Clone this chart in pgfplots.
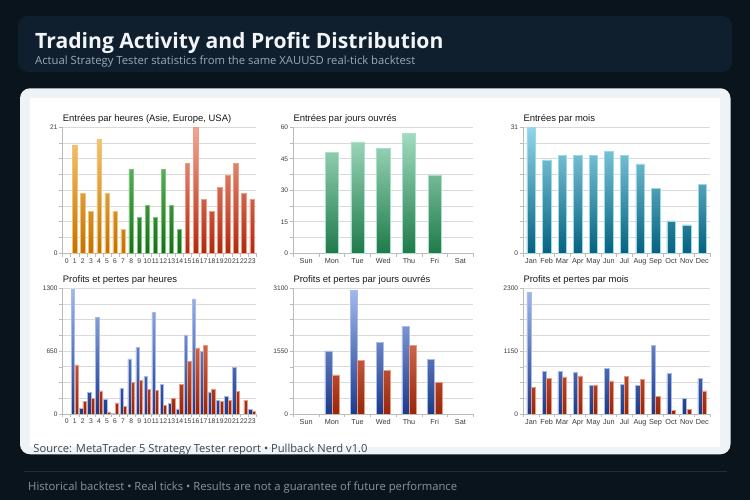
\documentclass[border=0pt]{standalone}
\usepackage{pgfplots}
\pgfplotsset{compat=1.18}
\usepackage{fontspec}
\setmainfont{Open Sans}
\newfontfamily\chartfont{Liberation Sans}

\definecolor{bgc}{HTML}{0A141C}
\definecolor{headc}{HTML}{0F1F2D}
\definecolor{cardc}{HTML}{EEF3F7}
\definecolor{titlec}{HTML}{F2F5F8}
\definecolor{subc}{HTML}{9AAAB8}
\definecolor{srcc}{HTML}{3A4550}
\definecolor{sepc}{HTML}{1E2D3A}
\definecolor{footc}{HTML}{8795A3}
\definecolor{gridc}{HTML}{DADADA}
\definecolor{axisc}{HTML}{BBBBBB}
\definecolor{tickc}{HTML}{3A3A3A}
\definecolor{ptitle}{HTML}{1A1A1A}
% bar colours
\definecolor{orT}{HTML}{F8CC7A}\definecolor{orB}{HTML}{C27200}\definecolor{orD}{HTML}{F2C27A}
\definecolor{grT}{HTML}{7CCB7C}\definecolor{grB}{HTML}{157015}\definecolor{grD}{HTML}{7CC47C}
\definecolor{rdT}{HTML}{F2A894}\definecolor{rdB}{HTML}{B2280C}\definecolor{rdD}{HTML}{EE9A86}
\definecolor{dyT}{HTML}{A8E0C6}\definecolor{dyB}{HTML}{1F7A4A}\definecolor{dyD}{HTML}{A8E2C6}
\definecolor{moT}{HTML}{92D6EA}\definecolor{moB}{HTML}{05627E}\definecolor{moD}{HTML}{9AD8EA}
\definecolor{blT}{HTML}{A4BAEE}\definecolor{blB}{HTML}{1A3A8A}\definecolor{blD}{HTML}{A7BCEB}
\definecolor{lsT}{HTML}{F39A80}\definecolor{lsB}{HTML}{9A2508}\definecolor{lsD}{HTML}{E89A86}

\pgfplotsset{
  panel/.style={
    scale only axis,
    axis x line*=bottom, axis y line*=left,
    axis line style={-, draw=axisc, line width=0.7bp},
    ymajorgrids, grid style={draw=gridc, line width=0.8bp},
    tick align=outside,
    major tick length=3.5bp, minor tick length=3.5bp,
    major tick style={draw=axisc, line width=0.6bp},
    minor tick style={draw=axisc, line width=0.6bp},
    major x tick style={draw=none},
    ymin=0, xmin=-0.5,
    yticklabel style={font=\chartfont\fontsize{6.6}{7}\selectfont, text=tickc, inner sep=1.5bp},
    xticklabel style={font=\chartfont\fontsize{7.3}{8}\selectfont, text=tickc, inner sep=1.5bp},
    every axis title shift=0pt,
    title style={font=\chartfont\fontsize{9.5}{10}\selectfont, text=ptitle, at={(0,1)}, anchor=base west, yshift=5.8bp, inner sep=0pt},
    ybar,
    clip=true,
  },
  hours/.style={xmax=23.5, xtick={0,...,23},
    xticklabels={0,1,2,3,4,5,6,7,8,9,10,11,12,13,14,15,16,17,18,19,20,21,22,23},
    xticklabel style={font=\chartfont\fontsize{6.8}{7}\selectfont},
    minor xtick={-0.5,0.5,...,23.5}},
  days/.style={xmax=6.5, xtick={0,...,6},
    xticklabels={Sun,Mon,Tue,Wed,Thu,Fri,Sat},
    minor xtick={-0.5,0.5,...,6.5}},
  months/.style={xmax=11.5, xtick={0,...,11},
    xticklabels={Jan,Feb,Mar,Apr,May,Jun,Jul,Aug,Sep,Oct,Nov,Dec},
    minor xtick={-0.5,0.5,...,11.5}},
}

\begin{document}
\begin{tikzpicture}[x=1bp,y=1bp]
\useasboundingbox (0,0) rectangle (750,500);
\fill[bgc] (0,0) rectangle (750,500);
% header
\fill[headc, rounded corners=10bp] (18,428) rectangle (732,484);
\node[anchor=base west, inner sep=0pt, text=titlec, font=\fontsize{21.2}{24}\selectfont\bfseries] at (35,451) {Trading Activity and Profit Distribution};
\node[anchor=base west, inner sep=0pt, text=subc, font=\fontsize{11.3}{13}\selectfont] at (35,435.7) {Actual Strategy Tester statistics from the same XAUUSD real-tick backtest};
% card
\fill[cardc, rounded corners=10bp] (20,45.7) rectangle (730.5,411.7);
\fill[white] (30,53.3) rectangle (720,401.7);
\node[anchor=base west, inner sep=0pt, text=srcc, font=\fontsize{11.2}{13}\selectfont] at (33.3,47.3) {Source: MetaTrader 5 Strategy Tester report • Pullback Nerd v1.0};
% footer
\draw[sepc, line width=1bp] (24,28) -- (726.7,28);
\node[anchor=base west, inner sep=0pt, text=footc, font=\fontsize{11.3}{13}\selectfont] at (28,9) {Historical backtest • Real ticks • Results are not a guarantee of future performance};

% ---------- Panel 1: entries per hour
\begin{axis}[panel, hours, at={(62.7bp,246.7bp)}, anchor=south west,
  width=193.3bp, height=126bp, ymax=21,
  ytick={0,2.625,5.25,7.875,10.5,13.125,15.75,18.375,21},
  yticklabels={0,{},{},{},{},{},{},{},21},
  title={Entrées par heures (Asie, Europe, USA)}]
\addplot[bar width=0.54, bar shift=0, top color=orT, bottom color=orB, draw=orD, line width=0.5bp]
  coordinates {(-5,21) (1,18) (2,10) (3,7) (4,19) (5,10) (6,7) (7,4)};
\addplot[bar width=0.54, bar shift=0, top color=grT, bottom color=grB, draw=grD, line width=0.5bp]
  coordinates {(-5,21) (8,14) (9,6) (10,8) (11,6) (12,14) (13,8) (14,4)};
\addplot[bar width=0.54, bar shift=0, top color=rdT, bottom color=rdB, draw=rdD, line width=0.5bp]
  coordinates {(-5,21) (15,15) (16,21) (17,9) (18,7) (19,11) (20,13) (21,15) (22,10) (23,9)};
\end{axis}

% ---------- Panel 2: entries per weekday
\begin{axis}[panel, days, at={(293.3bp,246.7bp)}, anchor=south west,
  width=180bp, height=126bp, ymax=60,
  ytick={0,7.5,15,22.5,30,37.5,45,52.5,60},
  yticklabels={0,{},15,{},30,{},45,{},60},
  title={Entrées par jours ouvrés}]
\addplot[bar width=0.52, bar shift=0, top color=dyT, bottom color=dyB, draw=dyD, line width=0.5bp]
  coordinates {(-5,60) (1,48) (2,53) (3,50) (4,57) (5,37)};
\end{axis}

% ---------- Panel 3: entries per month
\begin{axis}[panel, months, at={(523.3bp,246.7bp)}, anchor=south west,
  width=186.7bp, height=126bp, ymax=31,
  ytick={0,3.875,7.75,11.625,15.5,19.375,23.25,27.125,31},
  yticklabels={0,{},{},{},{},{},{},{},31},
  title={Entrées par mois}]
\addplot[bar width=0.54, bar shift=0, top color=moT, bottom color=moB, draw=moD, line width=0.5bp]
  coordinates {(-5,31) (0,31) (1,23) (2,24) (3,24) (4,24) (5,25) (6,24) (7,22) (8,16) (9,8) (10,7) (11,17)};
\end{axis}

% ---------- Panel 4: P/L per hour
\begin{axis}[panel, hours, at={(62.7bp,86bp)}, anchor=south west,
  width=193.3bp, height=125.7bp, ymax=1300,
  ytick={0,162.5,325,487.5,650,812.5,975,1137.5,1300},
  yticklabels={0,{},{},{},650,{},{},{},1300},
  title={Profits et pertes par heures}]
\addplot[bar width=0.41, bar shift=-0.21, top color=blT, bottom color=blB, draw=blD, line width=0.5bp]
  coordinates {(-5,1300) (1,1290) (2,59) (3,221) (4,1000) (5,148) (6,10) (7,266) (8,569) (9,686) (10,390) (11,1048) (12,303) (13,110) (14,52) (15,817) (16,1190) (17,652) (18,228) (19,141) (20,183) (21,479) (23,45)};
\addplot[bar width=0.41, bar shift=0.21, top color=lsT, bottom color=lsB, draw=lsD, line width=0.5bp]
  coordinates {(-5,1300) (1,507) (2,134) (3,162) (4,238) (5,21) (6,114) (7,79) (8,328) (9,345) (10,255) (11,245) (12,86) (13,162) (14,310) (15,541) (16,683) (17,707) (18,259) (19,134) (20,138) (21,234) (22,141) (23,24)};
\end{axis}

% ---------- Panel 5: P/L per weekday
\begin{axis}[panel, days, at={(293.3bp,86bp)}, anchor=south west,
  width=180bp, height=125.7bp, ymax=3100,
  ytick={0,387.5,775,1162.5,1550,1937.5,2325,2712.5,3100},
  yticklabels={0,{},{},{},1550,{},{},{},3100},
  title={Profits et pertes par jours ouvrés}]
\addplot[bar width=0.27, bar shift=-0.14, top color=blT, bottom color=blB, draw=blD, line width=0.5bp]
  coordinates {(-5,3100) (1,1554) (2,3043) (3,1768) (4,2163) (5,1340)};
\addplot[bar width=0.27, bar shift=0.14, top color=lsT, bottom color=lsB, draw=lsD, line width=0.5bp]
  coordinates {(-5,3100) (1,962) (2,1324) (3,1077) (4,1686) (5,781)};
\end{axis}

% ---------- Panel 6: P/L per month
\begin{axis}[panel, months, at={(523.3bp,86bp)}, anchor=south west,
  width=186.7bp, height=125.7bp, ymax=2300,
  ytick={0,287.5,575,862.5,1150,1437.5,1725,2012.5,2300},
  yticklabels={0,{},{},{},1150,{},{},{},2300},
  title={Profits et pertes par mois}]
\addplot[bar width=0.27, bar shift=-0.14, top color=blT, bottom color=blB, draw=blD, line width=0.5bp]
  coordinates {(-5,2300) (0,2227) (1,781) (2,775) (3,756) (4,519) (5,836) (6,543) (7,525) (8,1251) (9,738) (10,287) (11,647)};
\addplot[bar width=0.27, bar shift=0.14, top color=lsT, bottom color=lsB, draw=lsD, line width=0.5bp]
  coordinates {(-5,2300) (0,482) (1,647) (2,677) (3,696) (4,519) (5,604) (6,689) (7,635) (8,317) (9,67) (10,85) (11,421)};
\end{axis}
\end{tikzpicture}
\end{document}
